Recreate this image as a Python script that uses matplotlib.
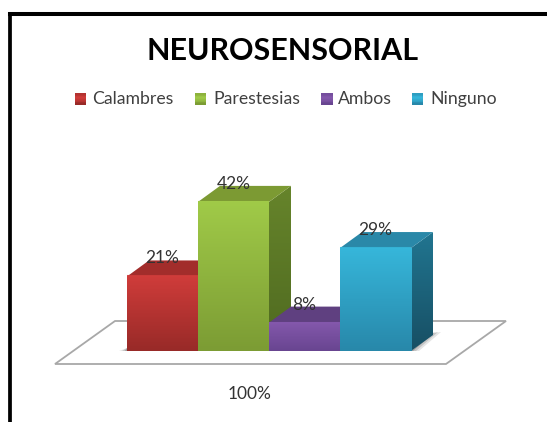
"""Barras 3D simuladas del grafico NEUROSENSORIAL."""

import matplotlib
matplotlib.use("Agg")

import matplotlib.pyplot as plt
import numpy as np
from matplotlib.colors import LinearSegmentedColormap
from matplotlib.lines import Line2D
from matplotlib.patches import Polygon

categorias = ["Calambres", "Parestesias", "Ambos", "Ninguno"]
valores = [21, 42, 8, 29]
etiquetas = ["21%", "42%", "8%", "29%"]
eje_x = "100%"
titulo = "NEUROSENSORIAL"

# (frente arriba, frente abajo, techo, lado arriba, lado abajo)
colores = [
    ("#cf3c3a", "#982a28", "#a22d2b", "#8a2422", "#6e1b1a"),
    ("#a0ca48", "#7c9c34", "#7c9a33", "#66842b", "#4f6a20"),
    ("#8458ac", "#684590", "#5f4080", "#523670", "#452c60"),
    ("#36b6da", "#2888aa", "#2a88a8", "#217590", "#174f64"),
]

W, H = 547, 422
plt.rcParams["font.family"] = ["Lato", "DejaVu Sans"]

fig = plt.figure(figsize=(W / 100, H / 100), dpi=100, facecolor="white")

# eje a toda la figura: categorias en x, porcentaje en y
px_cat = 71
px_pct = 3.55
ax = fig.add_axes([0, 0, 1, 1])
xlim = (-0.5 - 127 / px_cat, -0.5 + (W - 127) / px_cat)
ylim = (-(H - 351) / px_pct, 351 / px_pct)
ax.axis("off")

prof_x = 22 / px_cat
prof_y = 16 / px_pct


def px(x, y):
    # pasa pixeles de la imagen a coordenadas del eje
    return -0.5 + (x - 127) / px_cat, (351 - y) / px_pct


def degradado(pts, c1, c2, z):
    pts = np.array(pts)
    cmap = LinearSegmentedColormap.from_list("g", [c1, c2])
    parche = Polygon(pts, closed=True, fc="none", ec="none")
    ax.add_patch(parche)
    im = ax.imshow(
        np.linspace(0, 1, 64).reshape(-1, 1), cmap=cmap, aspect="auto", zorder=z,
        extent=(pts[:, 0].min(), pts[:, 0].max(), pts[:, 1].min(), pts[:, 1].max()),
    )
    im.set_clip_path(parche)


# piso
ax.add_patch(Polygon(
    [px(55, 364), px(446, 364), px(506, 321), px(115, 321)],
    closed=True, fc="white", ec="#a8a8a8", lw=1.3, zorder=1,
))

# sombras suaves sobre el piso
for extra, alpha in [(8, 0.1), (5, 0.14), (2, 0.2)]:
    ax.add_patch(Polygon(
        [px(127 - extra, 351), px(127, 351 - 3), px(127, 351)],
        closed=True, fc="black", ec="none", alpha=alpha, zorder=1.5,
    ))
    ax.add_patch(Polygon(
        [px(411, 351), px(433, 333), px(433 + extra, 332), px(411 + extra, 351)],
        closed=True, fc="black", ec="none", alpha=alpha, zorder=1.5,
    ))

for i, v in enumerate(valores):
    x0, x1 = i - 0.5, i + 0.5
    c = colores[i]
    z = 2 + i
    lado = [(x1, 0), (x1 + prof_x, prof_y), (x1 + prof_x, v + prof_y), (x1, v)]
    techo = [(x0, v), (x1, v), (x1 + prof_x, v + prof_y), (x0 + prof_x, v + prof_y)]
    degradado(lado, c[3], c[4], z)
    ax.add_patch(Polygon(techo, closed=True, fc=c[2], ec="none", zorder=z + 0.1))
    ax.imshow(
        np.linspace(0, 1, 64).reshape(-1, 1),
        cmap=LinearSegmentedColormap.from_list("f", [c[0], c[1]]),
        extent=(x0, x1, 0, v), aspect="auto", zorder=z + 0.2,
    )
    # brillo del borde superior
    ax.plot([x0, x1], [v, v], color=c[0], lw=1.5, alpha=0.9, zorder=z + 0.3,
            solid_capstyle="butt")
    ax.text(i, v + 18 / px_pct, etiquetas[i], ha="center", va="center",
            fontsize=12.5, color="#333333", zorder=10)

# leyenda hecha a mano para imitar los cuadritos con relieve
for nombre, c, xc, xt in zip(categorias, colores, [75, 195, 321, 412], [92, 213, 338, 430]):
    ax.imshow(
        np.array([0.5, 0.0, 0.3, 1.0]).reshape(-1, 1),
        cmap=LinearSegmentedColormap.from_list("l", [c[0], c[1]]),
        extent=(px(xc, 0)[0], px(xc + 11, 0)[0], px(0, 105)[1], px(0, 94)[1]),
        aspect="auto", zorder=5,
    )
    fig.text(xt / W, 1 - 99 / H, nombre, ha="left", va="center", fontsize=12.7, color="#404040")

ax.set_xlim(*xlim)
ax.set_ylim(*ylim)

# etiqueta del eje
fig.text(250 / W, 1 - 394 / H, eje_x, ha="center", va="center", fontsize=12.5, color="#333333")

# titulo
fig.text(283 / W, 1 - 51 / H, titulo, ha="center", va="center", fontsize=21.9,
         fontweight="bold", color="black")

# marco negro de la imagen
fig.add_artist(Line2D([10 / W, 10 / W], [0, 1 - 14 / H], color="black", lw=2.7,
                      solid_capstyle="projecting"))
fig.add_artist(Line2D([10 / W, 1], [1 - 14 / H, 1 - 14 / H], color="black", lw=2.9,
                      solid_capstyle="projecting"))

fig.savefig("out.png", dpi=100)
